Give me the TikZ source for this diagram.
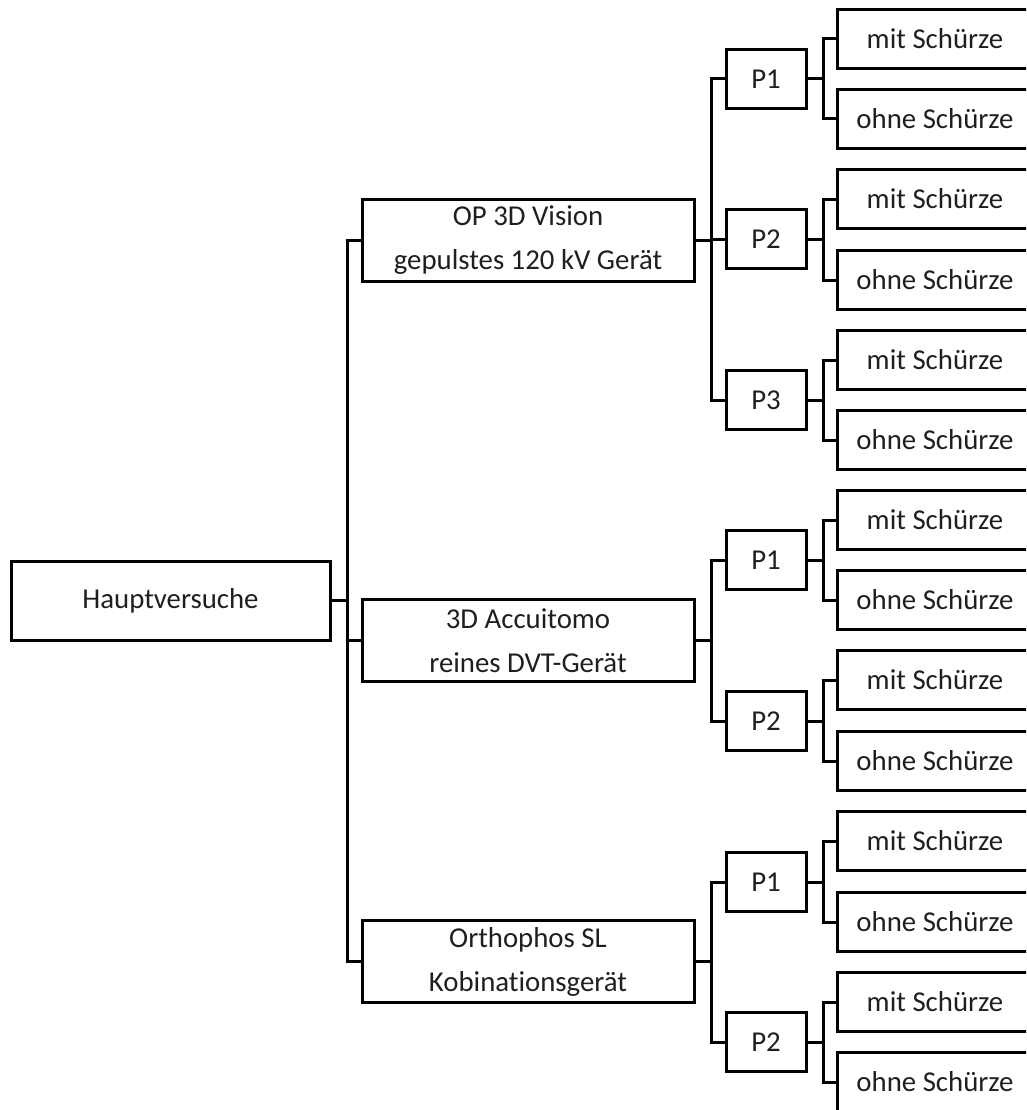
\documentclass[tikz,border=0pt]{standalone}
\usepackage{fontspec}
\setmainfont{Carlito}[Ligatures=NoCommon]

\begin{document}
\begin{tikzpicture}[x=1pt,y=-1pt,line width=3pt,
	box/.style={draw,line width=3pt,inner sep=0pt,align=center,
		font=\fontsize{28.8}{44}\selectfont,text=black!88},
	rootbox/.style={box,minimum width=319pt,minimum height=79pt},
	devbox/.style={box,minimum width=332pt,minimum height=82pt},
	posbox/.style={box,minimum width=80pt,minimum height=59pt},
	leafbox/.style={box,minimum width=196pt,minimum height=59pt}]
	\useasboundingbox (0,0) rectangle (1026,1110);
	\clip (0,0) rectangle (1026,1110);
	\node[rootbox] (haupt) at (170.5,600.5) {Hauptversuche};
	\node[devbox] (op) at (528,240) {OP 3D Vision\\gepulstes 120 kV Gerät};
	\node[devbox] (acc) at (528,640.5) {3D Accuitomo\\reines DVT-Gerät};
	\node[devbox] (ortho) at (528,961.5) {Orthophos SL\\Kobinationsgerät};
	% positions
	\node[posbox] (opa) at (766,79) {P1};
	\node[posbox] (opb) at (766,239) {P2};
	\node[posbox] (opc) at (766,400) {P3};
	\node[posbox] (acca) at (766,560) {P1};
	\node[posbox] (accb) at (766,721) {P2};
	\node[posbox] (orthoa) at (766,882) {P1};
	\node[posbox] (orthob) at (766,1042) {P2};
	% leaves
	\node[leafbox] (opam) at (935,39) {mit Schürze};
	\node[leafbox] (opao) at (935,119) {ohne Schürze};
	\node[leafbox] (opbm) at (935,199) {mit Schürze};
	\node[leafbox] (opbo) at (935,280) {ohne Schürze};
	\node[leafbox] (opcm) at (935,360) {mit Schürze};
	\node[leafbox] (opco) at (935,440) {ohne Schürze};
	\node[leafbox] (accam) at (935,520) {mit Schürze};
	\node[leafbox] (accao) at (935,600) {ohne Schürze};
	\node[leafbox] (accbm) at (935,680) {mit Schürze};
	\node[leafbox] (accbo) at (935,761) {ohne Schürze};
	\node[leafbox] (orthoam) at (935,841) {mit Schürze};
	\node[leafbox] (orthoao) at (935,922) {ohne Schürze};
	\node[leafbox] (orthobm) at (935,1002) {mit Schürze};
	\node[leafbox] (orthobo) at (935,1082) {ohne Schürze};
	% connectors
	\draw (haupt.east) -- ++(16,0) |- (op.west);
	\draw (haupt.east) -- ++(16,0) |- (acc.west);
	\draw (haupt.east) -- ++(16,0) |- (ortho.west);
	\draw (op.east) -- ++(16,0) |- (opa.west);
	\draw (op.east) -- ++(16,0) |- (opb.west);
	\draw (op.east) -- ++(16,0) |- (opc.west);
	\draw (acc.east) -- ++(16,0) |- (acca.west);
	\draw (acc.east) -- ++(16,0) |- (accb.west);
	\draw (ortho.east) -- ++(16,0) |- (orthoa.west);
	\draw (ortho.east) -- ++(16,0) |- (orthob.west);
	\draw (opa.east) -- ++(16,0) |- (opam.west);
	\draw (opa.east) -- ++(16,0) |- (opao.west);
	\draw (opb.east) -- ++(16,0) |- (opbm.west);
	\draw (opb.east) -- ++(16,0) |- (opbo.west);
	\draw (opc.east) -- ++(16,0) |- (opcm.west);
	\draw (opc.east) -- ++(16,0) |- (opco.west);
	\draw (acca.east) -- ++(16,0) |- (accam.west);
	\draw (acca.east) -- ++(16,0) |- (accao.west);
	\draw (accb.east) -- ++(16,0) |- (accbm.west);
	\draw (accb.east) -- ++(16,0) |- (accbo.west);
	\draw (orthoa.east) -- ++(16,0) |- (orthoam.west);
	\draw (orthoa.east) -- ++(16,0) |- (orthoao.west);
	\draw (orthob.east) -- ++(16,0) |- (orthobm.west);
	\draw (orthob.east) -- ++(16,0) |- (orthobo.west);
\end{tikzpicture}
\end{document}
